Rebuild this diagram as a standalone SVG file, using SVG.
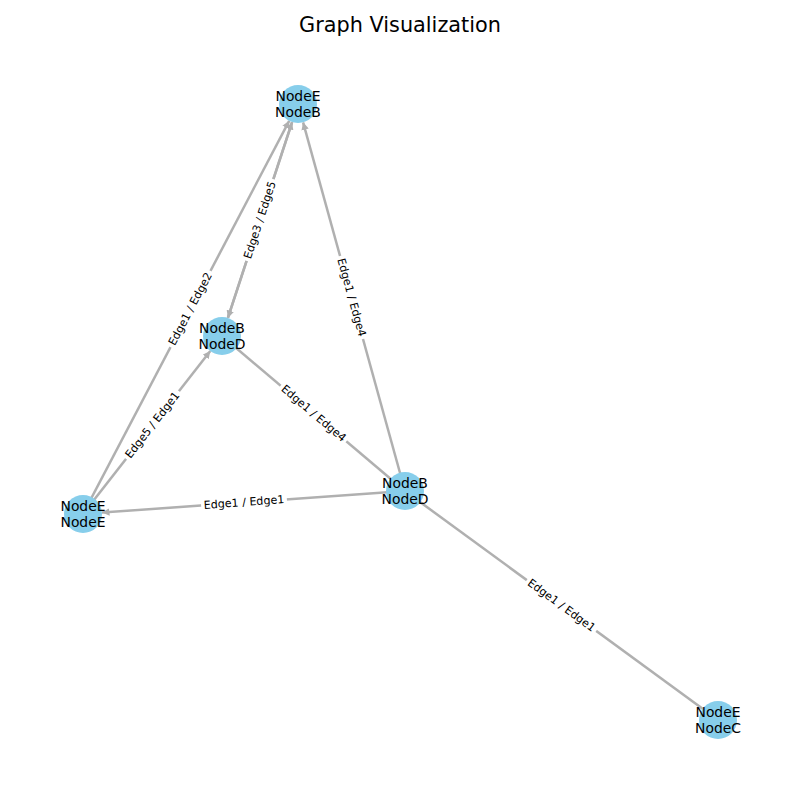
<svg xmlns="http://www.w3.org/2000/svg" width="800" height="800" viewBox="0 0 800 800">
<style>
.edge{stroke:#b0b0b0;stroke-width:2.5;fill:none}
.arr{marker-end:url(#ah)}
.node circle{fill:#87ceeb}
.nl{font-family:"DejaVu Sans",sans-serif;font-size:13.9px;fill:#000;text-anchor:middle;dominant-baseline:central}
.el{font-family:"DejaVu Sans",sans-serif;font-size:11.1px;fill:#000;text-anchor:middle;dominant-baseline:central}
.lb{fill:#fff}
.title{font-family:"DejaVu Sans",sans-serif;font-size:20.8px;fill:#000;text-anchor:middle;dominant-baseline:central}
</style>
<defs>
<marker id="ah" viewBox="0 0 10 10" refX="10" refY="5" markerWidth="3" markerHeight="3" orient="auto" markerUnits="strokeWidth">
<path d="M0,0 L10,5 L0,10 z" fill="#b0b0b0"/>
</marker>
</defs>
<rect width="800" height="800" fill="#fff"/>
<text class="title" x="400" y="25">Graph Visualization</text>
<g id="connectors">
<line class="edge arr" x1="83" y1="514" x2="289.2" y2="120.8"/>
<line class="edge arr" x1="227.9" y1="317.9" x2="292.1" y2="122.1"/>
<line class="edge arr" x1="292.1" y1="122.1" x2="227.9" y2="317.9"/>
<line class="edge arr" x1="405" y1="491" x2="303.1" y2="122.3"/>
<line class="edge" x1="222" y1="336" x2="405" y2="491"/>
<line class="edge arr" x1="83" y1="514" x2="210.3" y2="351.0"/>
<line class="edge arr" x1="405" y1="491" x2="102.0" y2="512.6"/>
<line class="edge" x1="405" y1="491" x2="718" y2="720"/>
<g transform="translate(190.5,309) rotate(-62.3)"><rect class="lb" x="-43" y="-7.5" width="86" height="15" rx="3"/><text class="el" x="0" y="0">Edge1 / Edge2</text></g>
<g transform="translate(260,220) rotate(-71.9)"><rect class="lb" x="-43" y="-7.5" width="86" height="15" rx="3"/><text class="el" x="0" y="0">Edge3 / Edge5</text></g>
<g transform="translate(351.5,297.5) rotate(74.5)"><rect class="lb" x="-43" y="-7.5" width="86" height="15" rx="3"/><text class="el" x="0" y="0">Edge1 / Edge4</text></g>
<g transform="translate(313.5,413.5) rotate(40.3)"><rect class="lb" x="-43" y="-7.5" width="86" height="15" rx="3"/><text class="el" x="0" y="0">Edge1 / Edge4</text></g>
<g transform="translate(152.5,425) rotate(-52)"><rect class="lb" x="-43" y="-7.5" width="86" height="15" rx="3"/><text class="el" x="0" y="0">Edge5 / Edge1</text></g>
<g transform="translate(244,502.5) rotate(-4.1)"><rect class="lb" x="-43" y="-7.5" width="86" height="15" rx="3"/><text class="el" x="0" y="0">Edge1 / Edge1</text></g>
<g transform="translate(561.5,605.5) rotate(36.2)"><rect class="lb" x="-43" y="-7.5" width="86" height="15" rx="3"/><text class="el" x="0" y="0">Edge1 / Edge1</text></g>
</g>
<g id="node-top" class="node"><circle cx="298" cy="104" r="19"/><text class="nl" x="298" y="96">NodeE</text><text class="nl" x="298" y="112">NodeB</text></g>
<g id="node-mid" class="node"><circle cx="222" cy="336" r="19"/><text class="nl" x="222" y="328">NodeB</text><text class="nl" x="222" y="344">NodeD</text></g>
<g id="node-right" class="node"><circle cx="405" cy="491" r="19"/><text class="nl" x="405" y="483">NodeB</text><text class="nl" x="405" y="499">NodeD</text></g>
<g id="node-left" class="node"><circle cx="83" cy="514" r="19"/><text class="nl" x="83" y="506">NodeE</text><text class="nl" x="83" y="522">NodeE</text></g>
<g id="node-bottom" class="node"><circle cx="718" cy="720" r="19"/><text class="nl" x="718" y="712">NodeE</text><text class="nl" x="718" y="728">NodeC</text></g>
</svg>
